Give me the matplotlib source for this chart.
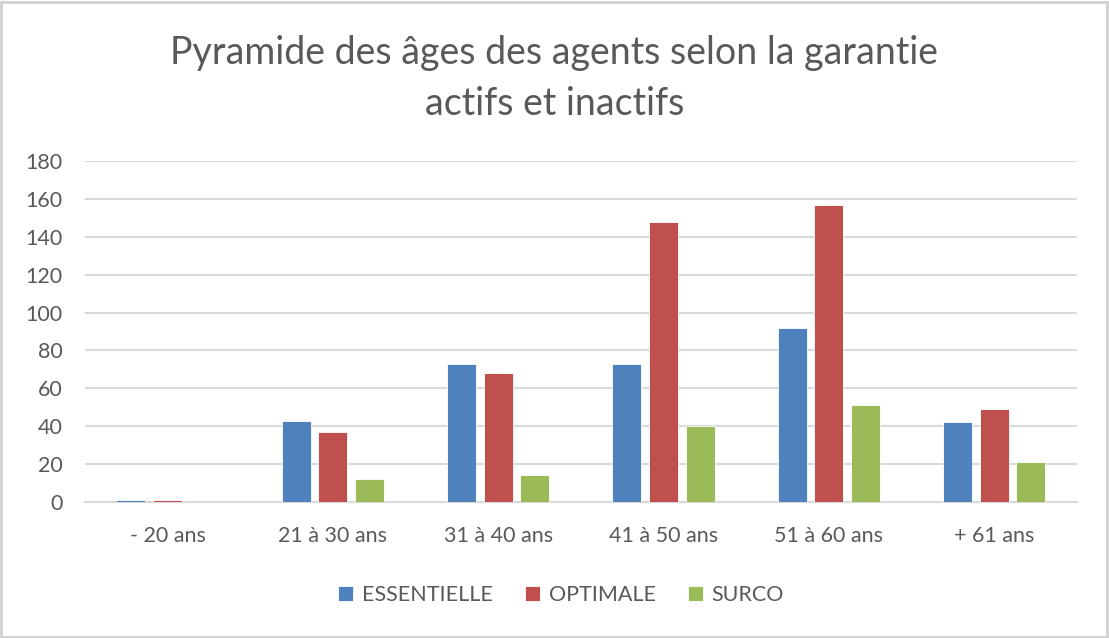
import numpy as np
import matplotlib
matplotlib.use("Agg")
import matplotlib.pyplot as plt
from matplotlib.patches import Rectangle

# data
categories = ["- 20 ans", "21 à 30 ans", "31 à 40 ans", "41 à 50 ans", "51 à 60 ans", "+ 61 ans"]
essentielle = [1, 43, 73, 73, 92, 42]
optimale = [1, 37, 68, 148, 157, 49]
surco = [0, 12, 14, 40, 51, 21]
series_names = ["ESSENTIELLE", "OPTIMALE", "SURCO"]
colors = ["#4F81BD", "#C0504D", "#9BBB59"]

plt.rcParams['font.family'] = ['Lato', 'DejaVu Sans']
txt = "#595959"

fig = plt.figure(figsize=(11.09, 6.38), dpi=100)
ax = fig.add_axes([0.0766, 0.2132, 0.8944, 0.5344])

x = np.arange(len(categories))
w = 0.176
step = 0.222
for i, (vals, name) in enumerate(zip([essentielle, optimale, surco], series_names)):
    ax.bar(x + (i - 1) * step, vals, width=w, color=colors[i], label=name,
           edgecolor="white", linewidth=0.6, zorder=3)

ax.set_xlim(-0.5, len(categories) - 0.5)
ax.set_ylim(0, 180)
ax.set_yticks(range(0, 181, 20))
ax.set_xticks(x)
ax.set_xticklabels(categories)
ax.tick_params(axis='both', length=0, labelsize=15.5, colors=txt)
ax.tick_params(axis='y', pad=16)
ax.tick_params(axis='x', pad=17)
ax.grid(axis='y', color="#D9D9D9", linewidth=1.5, zorder=0)
for s in ["top", "right", "left"]:
    ax.spines[s].set_visible(False)
ax.spines["bottom"].set_color("#D9D9D9")
ax.spines["bottom"].set_linewidth(1.5)

fig.text(0.5, 0.945, "Pyramide des âges des agents selon la garantie\nactifs et inactifs",
         ha="center", va="top", fontsize=27, color=txt, linespacing=1.5)

leg = fig.legend(loc="center", bbox_to_anchor=(0.506, 0.067), ncol=3, frameon=False,
                 fontsize=15.5, handlelength=0.7, handleheight=0.7, handletextpad=0.4,
                 columnspacing=1.5)
for t in leg.get_texts():
    t.set_color(txt)

fig.patches.append(Rectangle((0.001, 0.001), 0.997, 0.996, transform=fig.transFigure,
                             fill=False, edgecolor="#D0D0D0", linewidth=2))

fig.savefig("out.png", dpi=100, facecolor="white")
